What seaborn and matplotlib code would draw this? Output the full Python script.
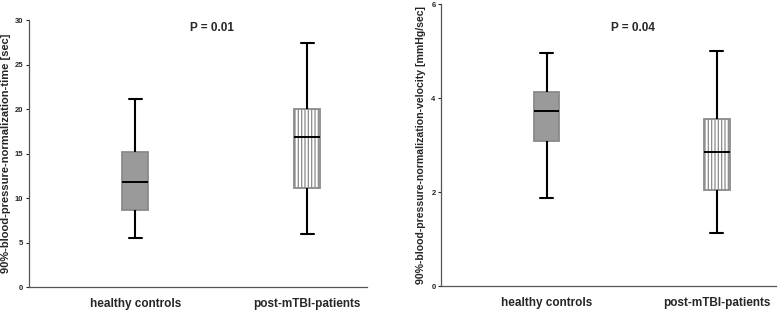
import matplotlib
matplotlib.use("Agg")
import matplotlib.pyplot as plt
import seaborn as sns
import pandas as pd

# five-number summaries: min, q1, median, q3, max
groups = ["healthy controls", "post-mTBI-patients"]
time_healthy = [5.5, 8.7, 11.8, 15.2, 21.1]
time_patients = [6.0, 11.1, 16.9, 20.0, 27.4]
vel_healthy = [1.87, 3.08, 3.72, 4.12, 4.95]
vel_patients = [1.12, 2.05, 2.85, 3.55, 5.0]
p_values = ["P = 0.01", "P = 0.04"]
y_labels = ["90%-blood-pressure-normalization-time [sec]",
            "90%-blood-pressure-normalization-velocity [mmHg/sec]"]

df_time = pd.DataFrame({"group": [groups[0]] * 5 + [groups[1]] * 5,
                        "value": time_healthy + time_patients})
df_vel = pd.DataFrame({"group": [groups[0]] * 5 + [groups[1]] * 5,
                       "value": vel_healthy + vel_patients})

sns.set_style("white")
plt.rcParams['font.family'] = ['Liberation Sans', 'DejaVu Sans']
plt.rcParams['hatch.color'] = '#8a8a8a'
plt.rcParams['hatch.linewidth'] = 0.9

fig = plt.figure(figsize=(7.78, 3.10), dpi=100)
ax1 = fig.add_axes([0.037, 0.074, 0.435, 0.861])
ax2 = fig.add_axes([0.567, 0.077, 0.431, 0.910])


def draw(ax, df, ymax, yticks, ptext, px, py, ylabel, ylab_x, ylab_size):
    sns.boxplot(data=df, x="group", y="value", hue="group", ax=ax, legend=False,
                palette={groups[0]: "#9a9a9a", groups[1]: "white"},
                whis=(0, 100), width=0.15, linewidth=1.3, capwidths=0.075,
                boxprops=dict(edgecolor="#8a8a8a"),
                whiskerprops=dict(color="black", linewidth=1.5),
                capprops=dict(color="black", linewidth=1.5),
                medianprops=dict(color="black", linewidth=1.4))
    ax.patches[1].set_hatch("|||||")
    ax.set_xlim(-0.62, 1.35)
    ax.set_ylim(0, ymax)
    ax.set_yticks(yticks)
    ax.set_yticklabels([str(t) for t in yticks], fontsize=5.5, fontweight="bold")
    ax.tick_params(axis="y", length=2, width=0.8, pad=2, left=True)
    ax.tick_params(axis="x", length=0, pad=8)
    for lab in ax.get_xticklabels():
        lab.set_fontsize(8.5)
        lab.set_fontweight("bold")
    ax.set_xlabel("")
    ax.set_ylabel(ylabel, fontsize=ylab_size, fontweight="bold")
    ax.yaxis.set_label_coords(ylab_x, 0.5)
    sns.despine(ax=ax)
    for s in ["left", "bottom"]:
        ax.spines[s].set_color("#555555")
        ax.spines[s].set_linewidth(0.9)
    ax.text(px, py, ptext, transform=ax.transAxes, ha="center", va="center",
            fontsize=8.5, fontweight="bold")


draw(ax1, df_time, 30, [0, 5, 10, 15, 20, 25, 30], p_values[0], 0.54, 0.97,
     y_labels[0], -0.052, 8)
draw(ax2, df_vel, 6, [0, 2, 4, 6], p_values[1], 0.571, 0.915,
     y_labels[1], -0.045, 7.6)

fig.savefig("out.png", dpi=100)
